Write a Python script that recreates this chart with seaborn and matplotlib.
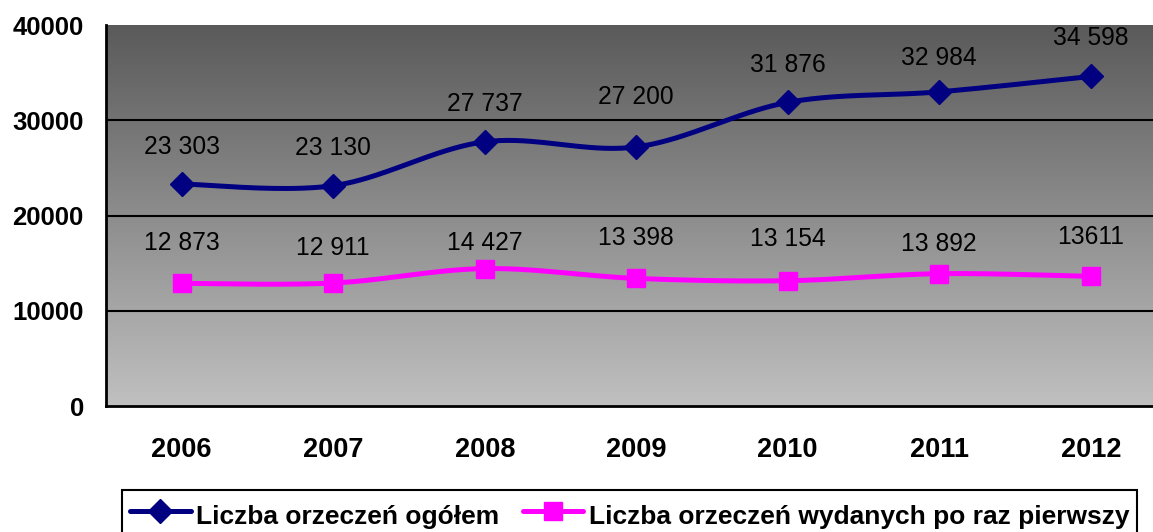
import numpy as np
import pandas as pd
import seaborn as sns
import matplotlib.pyplot as plt
from matplotlib.lines import Line2D

# dane
years = ['2006', '2007', '2008', '2009', '2010', '2011', '2012']
ogolem = [23303, 23130, 27737, 27200, 31876, 32984, 34598]
pierwszy = [12873, 12911, 14427, 13398, 13154, 13892, 13611]
ogolem_labels = ['23 303', '23 130', '27 737', '27 200', '31 876', '32 984', '34 598']
pierwszy_labels = ['12 873', '12 911', '14 427', '13 398', '13 154', '13 892', '13611']
series_names = ['Liczba orzeczeń ogółem', 'Liczba orzeczeń wydanych po raz pierwszy']

# przesunięcia etykiet nad punktami (piksele)
ogolem_off = [37, 38, 38, 50, 37, 34, 38]
pierwszy_off = [40, 35, 26, 40, 42, 30, 39]

sns.set_style('white')
plt.rcParams['font.family'] = ['Liberation Sans', 'DejaVu Sans']
plt.rcParams['text.color'] = 'black'
plt.rcParams['xtick.color'] = 'black'
plt.rcParams['ytick.color'] = 'black'


def smooth(y, n=40):
    # wygładzanie jak w Excelu (Bezier z punktami kontrolnymi Catmull-Rom)
    x = np.arange(len(y), dtype=float)
    y = np.asarray(y, dtype=float)
    pts = np.column_stack([x, y])
    ext = np.vstack([pts[0], pts, pts[-1]])
    out = []
    t = np.linspace(0, 1, n)[:, None]
    for i in range(len(pts) - 1):
        p0, p3 = ext[i + 1], ext[i + 2]
        p1 = p0 + (ext[i + 2] - ext[i]) / 6
        p2 = p3 - (ext[i + 3] - ext[i + 1]) / 6
        seg = (1 - t) ** 3 * p0 + 3 * (1 - t) ** 2 * t * p1 + 3 * (1 - t) * t ** 2 * p2 + t ** 3 * p3
        out.append(seg)
    out = np.vstack(out)
    return pd.DataFrame({'x': out[:, 0], 'y': out[:, 1]})


fig = plt.figure(figsize=(11.53, 5.32), dpi=100)
ax = fig.add_axes([106 / 1153, 126 / 532, 1060.5 / 1153, 381 / 532])

# tło z gradientem
grad = np.linspace(0, 1, 256)[:, None]
ax.imshow(grad, cmap=plt.matplotlib.colors.LinearSegmentedColormap.from_list('g', ['#c0c0c0', '#5a5a5a']),
          extent=[-0.5, 6.5, 0, 40000], aspect='auto', origin='lower', zorder=0)

ax.hlines([10000, 20000, 30000], -0.5, 6.5, colors='black', linewidth=1.5, zorder=1)

colors = ['#000080', '#FF00FF']
markers = ['D', 's']
msizes = [12, 13]
for vals, labels, offs, c, m, ms in zip([ogolem, pierwszy], [ogolem_labels, pierwszy_labels],
                                       [ogolem_off, pierwszy_off], colors, markers, msizes):
    sc = smooth(vals)
    sns.lineplot(data=sc, x='x', y='y', sort=False, color=c, linewidth=3.6, ax=ax, zorder=3)
    ax.plot(range(len(vals)), vals, linestyle='none', marker=m, markersize=ms, color=c, zorder=4)
    for i, (v, lab, o) in enumerate(zip(vals, labels, offs)):
        ax.annotate(lab, (i, v), xytext=(0, o * 0.72), textcoords='offset points',
                    ha='center', va='center', fontsize=17.7, color='black', zorder=5)

ax.set_xlim(-0.5, 6.5)
ax.set_ylim(0, 40000)
ax.set_xlabel('')
ax.set_ylabel('')
ax.set_yticks([0, 10000, 20000, 30000, 40000])
ax.set_yticklabels(['0', '10000', '20000', '30000', '40000'], fontsize=18.5, fontweight='bold')
ax.set_xticks(range(len(years)))
ax.set_xticklabels(years, fontsize=19.5, fontweight='bold')
ax.set_xticks(np.arange(-0.5, 7, 1), minor=True)
ax.tick_params(axis='x', which='major', length=0, pad=22)
ax.tick_params(axis='x', which='minor', length=8, width=1.5, direction='out', color='black')
ax.tick_params(axis='y', length=10, width=1.5, direction='out', color='black', pad=6)
for s in ['top', 'right']:
    ax.spines[s].set_visible(False)
for s in ['left', 'bottom']:
    ax.spines[s].set_color('black')
    ax.spines[s].set_linewidth(2)
ax.spines['left'].set_zorder(6)
ax.spines['bottom'].set_zorder(6)

handles = [Line2D([], [], color=c, marker=m, markersize=ms, linewidth=3.6)
           for c, m, ms in zip(colors, markers, msizes)]
leg = fig.legend(handles, series_names, loc='upper left', bbox_to_anchor=(122 / 1153, 1 - 490 / 532),
                 ncol=2, frameon=True, fancybox=False, edgecolor='black', framealpha=1,
                 prop={'size': 19, 'weight': 'bold'}, handlelength=2.3, handletextpad=0.2,
                 handleheight=1.6, columnspacing=0.9, borderpad=0.3, borderaxespad=0)
leg.get_frame().set_linewidth(1.5)

fig.savefig('out.png', dpi=100)
